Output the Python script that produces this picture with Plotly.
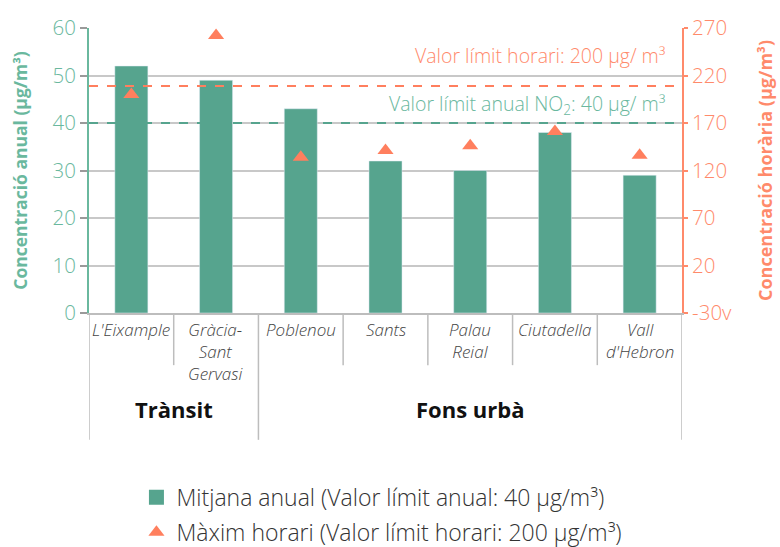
import plotly.graph_objects as go

categories = ["L'Eixample", "Gràcia-Sant Gervasi", "Poblenou", "Sants", "Palau Reial", "Ciutadella", "Vall d'Hebron"]
cat_labels = ["L'Eixample", "Gràcia-<br>Sant<br>Gervasi", "Poblenou", "Sants", "Palau<br>Reial", "Ciutadella", "Vall<br>d'Hebron"]
annual_mean = [52, 49, 43, 32, 30, 38, 29]
hourly_max = [200, 262, 134, 141, 146, 161, 136]
groups = ["Trànsit", "Fons urbà"]
group_spans = [(0, 1), (2, 6)]
left_ticks = [0, 10, 20, 30, 40, 50, 60]
right_ticks = [-30, 20, 70, 120, 170, 220, 270]
right_ticktext = ["-30v", "20", "70", "120", "170", "220", "270"]
annual_limit = 40
hourly_limit_line = 209
legend_names = ["Mitjana anual (Valor límit anual: 40 µg/m³)", "Màxim horari (Valor límit horari: 200 µg/m³)"]

GREEN = "#56a48e"
GREEN_TXT = "#6ab89e"
ORANGE = "#ff7f5e"
ORANGE_TXT = "#ff8a6b"
FONT = "Open Sans"

x = list(range(len(categories)))

fig = go.Figure()
fig.add_trace(go.Bar(
    x=x, y=annual_mean, marker_color=GREEN, width=0.39,
    name=legend_names[0], yaxis="y", showlegend=False))
fig.add_trace(go.Scatter(
    x=[None], y=[None], mode="markers", marker=dict(symbol="square", size=15, color=GREEN),
    name=legend_names[0], legendgroup="a"))
fig.add_trace(go.Scatter(
    x=x, y=hourly_max, mode="markers", yaxis="y2",
    marker=dict(symbol="triangle-up", size=14, color=ORANGE),
    name=legend_names[1], legendgroup="b"))

shapes = []
shapes.append(dict(type="line", xref="paper", x0=0, x1=1, yref="y", y0=annual_limit, y1=annual_limit,
                   line=dict(color=GREEN, width=2, dash="dash"), layer="above"))
shapes.append(dict(type="line", xref="paper", x0=0, x1=1, yref="y2", y0=hourly_limit_line, y1=hourly_limit_line,
                   line=dict(color=ORANGE, width=2, dash="dash"), layer="above"))
long_bounds = set()
for a, b in group_spans:
    long_bounds.add(a - 0.5)
    long_bounds.add(b + 0.5)
for i in range(len(categories) + 1):
    xb = i - 0.5
    y1 = -0.445 if xb in long_bounds else -0.183
    shapes.append(dict(type="line", xref="x", x0=xb, x1=xb, yref="paper", y0=0, y1=y1,
                       line=dict(color="#bdbdbd", width=1.5)))

annotations = []
for i, lab in enumerate(cat_labels):
    annotations.append(dict(x=i, xref="x", y=0, yref="paper", yanchor="top", yshift=-3,
                            text="<i>" + lab + "</i>", showarrow=False,
                            font=dict(family=FONT, size=17, color="#444444", weight=300), align="center"))
for g, (a, b) in zip(groups, group_spans):
    annotations.append(dict(x=(a + b) / 2, xref="x", y=-0.337, yref="paper", yanchor="middle",
                            text="<b>" + g + "</b>", showarrow=False,
                            font=dict(family=FONT, size=22, color="#111111")))
annotations.append(dict(x=0.976, xref="paper", xanchor="right", y=241.5, yref="y2", yanchor="middle",
                        text="Valor límit horari: 200 µg/ m³", showarrow=False,
                        font=dict(family=FONT, size=19.5, color=ORANGE_TXT, weight=300)))
annotations.append(dict(x=0.976, xref="paper", xanchor="right", y=43.8, yref="y", yanchor="middle",
                        text="Valor límit anual NO<sub>2</sub>: 40 µg/ m³", showarrow=False,
                        font=dict(family=FONT, size=19.5, color=GREEN_TXT, weight=300)))

fig.update_layout(
    width=780, height=547,
    margin=dict(l=89, r=98, t=28, b=234),
    plot_bgcolor="white", paper_bgcolor="white",
    font=dict(family=FONT),
    showlegend=True,
    legend=dict(orientation="v", x=0.08, xanchor="left", xref="paper", y=0.13, yanchor="top", yref="container",
                font=dict(family=FONT, size=23, color="#333333", weight=300),
                tracegroupgap=2, itemsizing="trace"),
    xaxis=dict(range=[-0.5, len(categories) - 0.5], showticklabels=False, showgrid=False, automargin=False,
               zeroline=False, showline=True, linecolor="#bdbdbd", linewidth=1.5, ticks=""),
    yaxis=dict(range=[0, 60], tickvals=left_ticks, showgrid=True, gridcolor="#c8c8c8", gridwidth=1.5,
               zeroline=False, showline=True, linecolor=GREEN_TXT, linewidth=2, automargin=False,
               ticks="outside", tickcolor="#9a9a9a", ticklen=7, tickwidth=1.5,
               tickfont=dict(family=FONT, size=20.5, color=GREEN_TXT, weight=300),
               title=dict(text="<b>Concentració anual (µg/m³)</b>", standoff=20,
                          font=dict(family=FONT, size=17.5, color=GREEN_TXT))),
    yaxis2=dict(range=[-30, 270], tickvals=right_ticks, ticktext=right_ticktext, overlaying="y", side="right",
                showgrid=False, zeroline=False, showline=True, linecolor=ORANGE_TXT, linewidth=2, automargin=False,
                ticks="outside", tickcolor=ORANGE_TXT, ticklen=4, tickwidth=1.5,
                tickfont=dict(family=FONT, size=20.5, color=ORANGE_TXT, weight=300),
                title=dict(text="<b>Concentració horària (µg/m³)</b>", standoff=28,
                           font=dict(family=FONT, size=18, color=ORANGE_TXT))),
    shapes=shapes, annotations=annotations,
)

fig.write_html("out.html", config={"displayModeBar": False},
               post_script="document.body.style.margin='0px';")
